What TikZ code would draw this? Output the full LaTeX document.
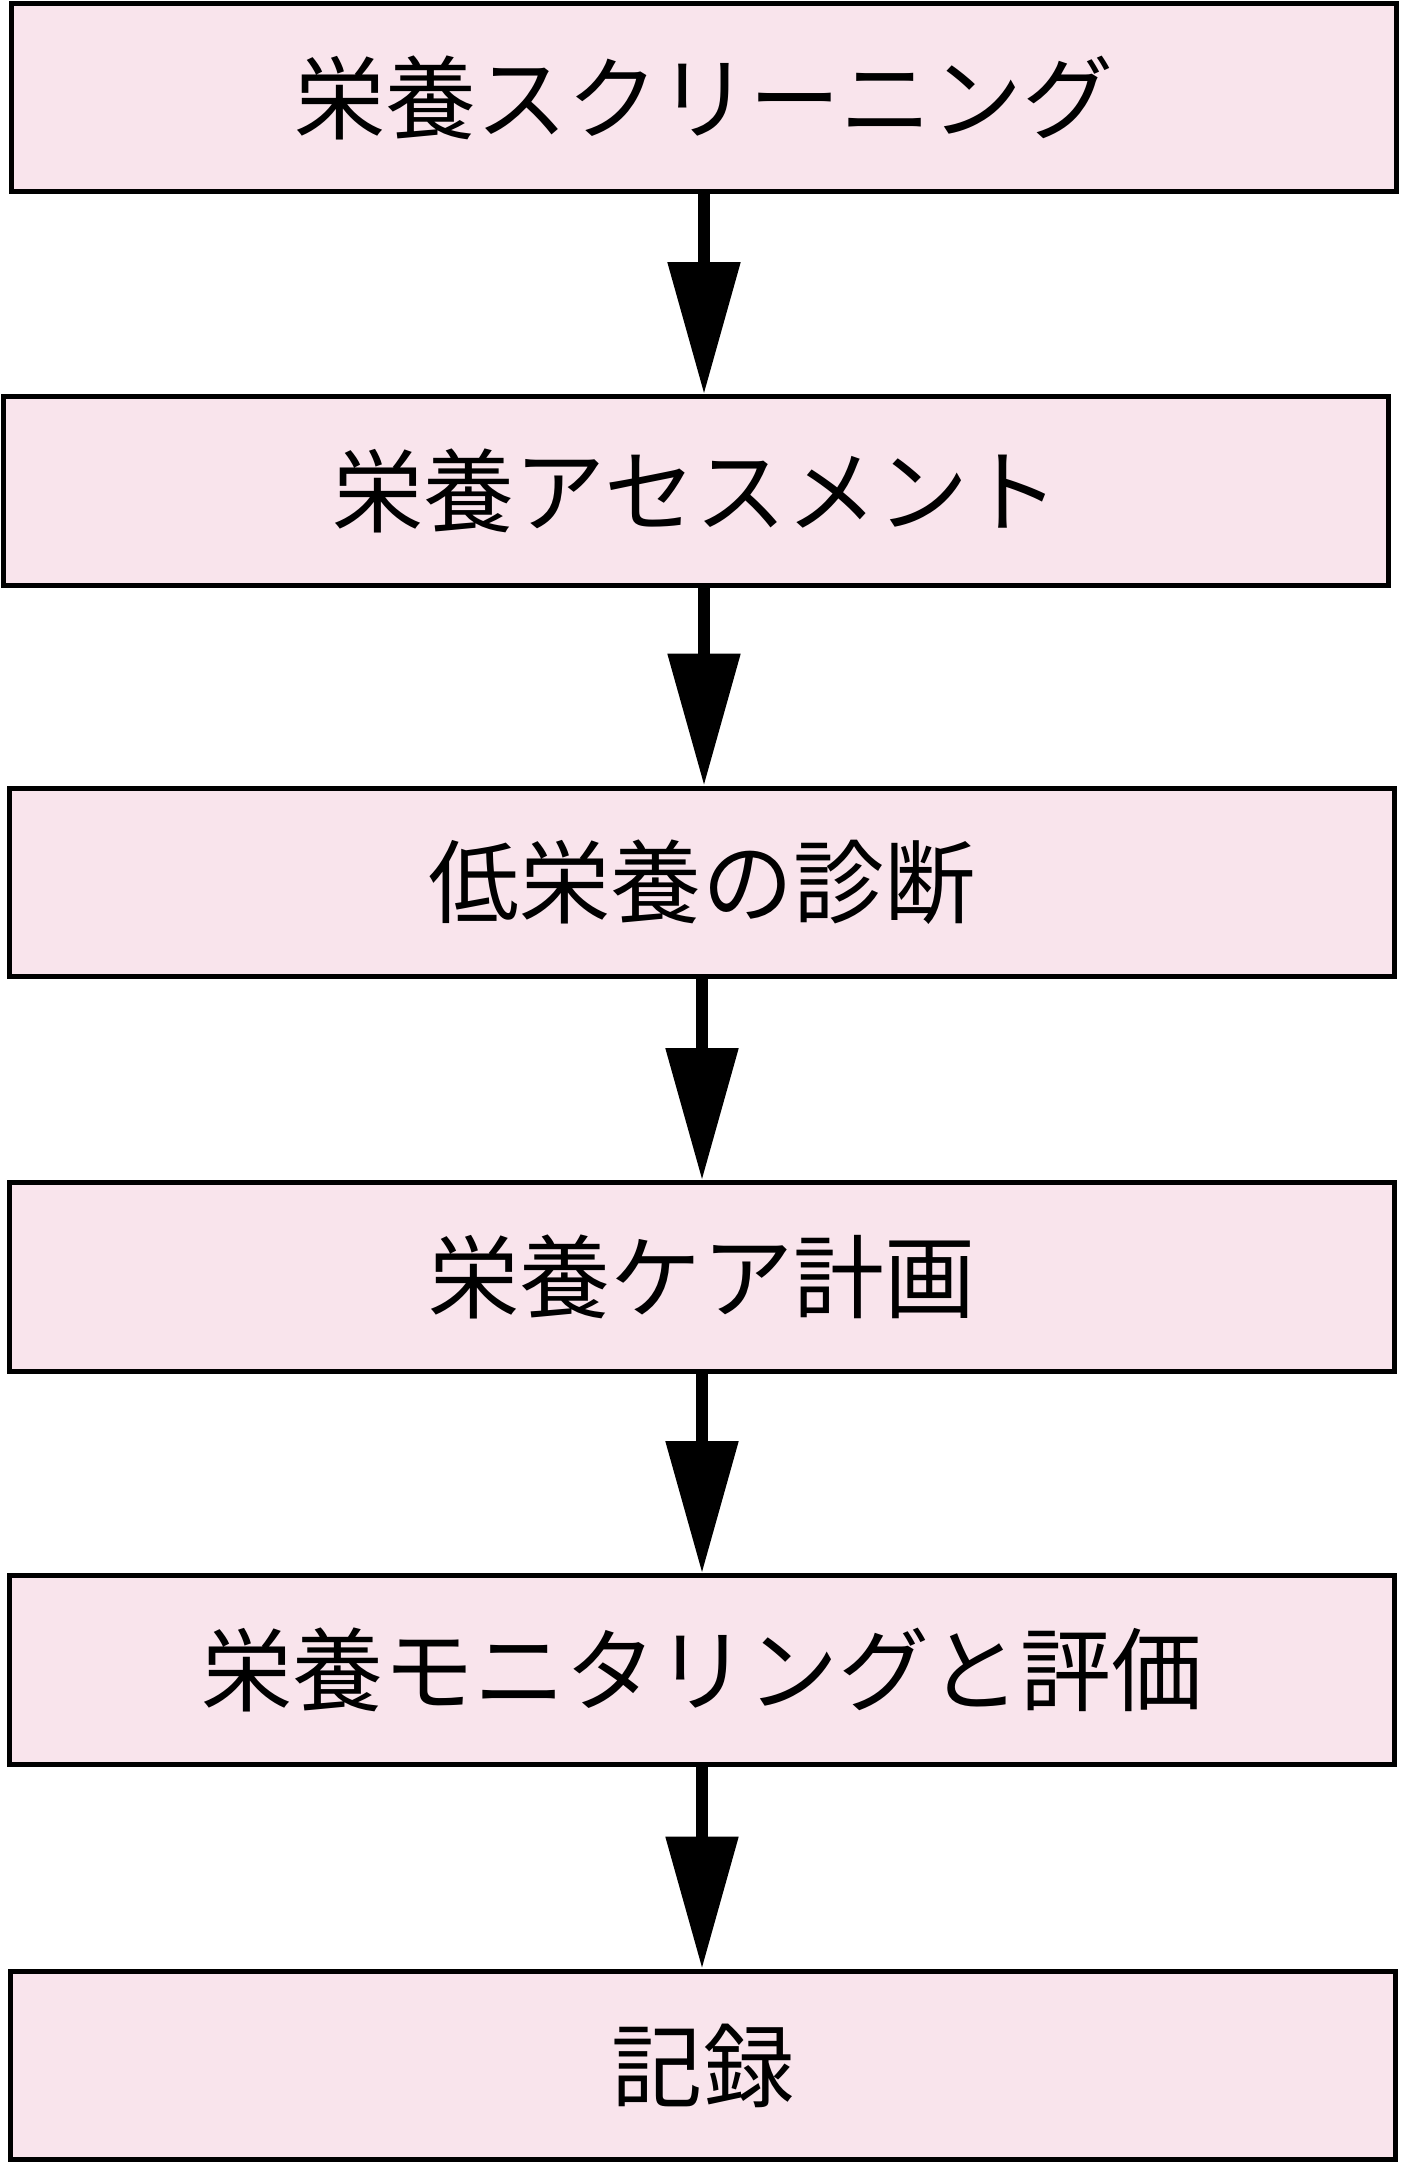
\documentclass[tikz,border=0pt]{standalone}
\usepackage{fontspec}
\newfontfamily\jpfont{Noto Sans CJK JP}
\usetikzlibrary{arrows.meta}
\definecolor{boxpink}{RGB}{249,228,236}
\begin{document}
\begin{tikzpicture}[scale=1,
  stepbox/.style={draw=black, line width=1.5pt, fill=boxpink, inner sep=0pt,
    minimum width=13.85cm, minimum height=1.885cm,
    font=\jpfont\fontsize{25.9}{30}\selectfont},
  flow/.style={line width=3.4pt, -{Triangle[width=0.7cm,length=1.32cm]}}]
\useasboundingbox (0,0) rectangle (14.01,-21.65);

\node (screening) at (7.04,-0.975) [stepbox]{栄養スクリーニング};
\node (assessment) at (6.96,-4.91) [stepbox]{栄養アセスメント};
\node (diagnosis) at (7.02,-8.825) [stepbox]{低栄養の診断};
\node (careplan) at (7.02,-12.77) [stepbox]{栄養ケア計画};
\node (monitoring) at (7.02,-16.70) [stepbox]{栄養モニタリングと評価};
\node (record) at (7.03,-20.655) [stepbox]{記録};

\draw[flow] (screening.south)--(screening.south |- assessment.north);
\draw[flow] (assessment.south -| screening.south)--(screening.south |- diagnosis.north);
\draw[flow] (diagnosis.south)--(diagnosis.south |- careplan.north);
\draw[flow] (careplan.south)--(careplan.south |- monitoring.north);
\draw[flow] (monitoring.south)--(monitoring.south |- record.north);

\end{tikzpicture}
\end{document}
